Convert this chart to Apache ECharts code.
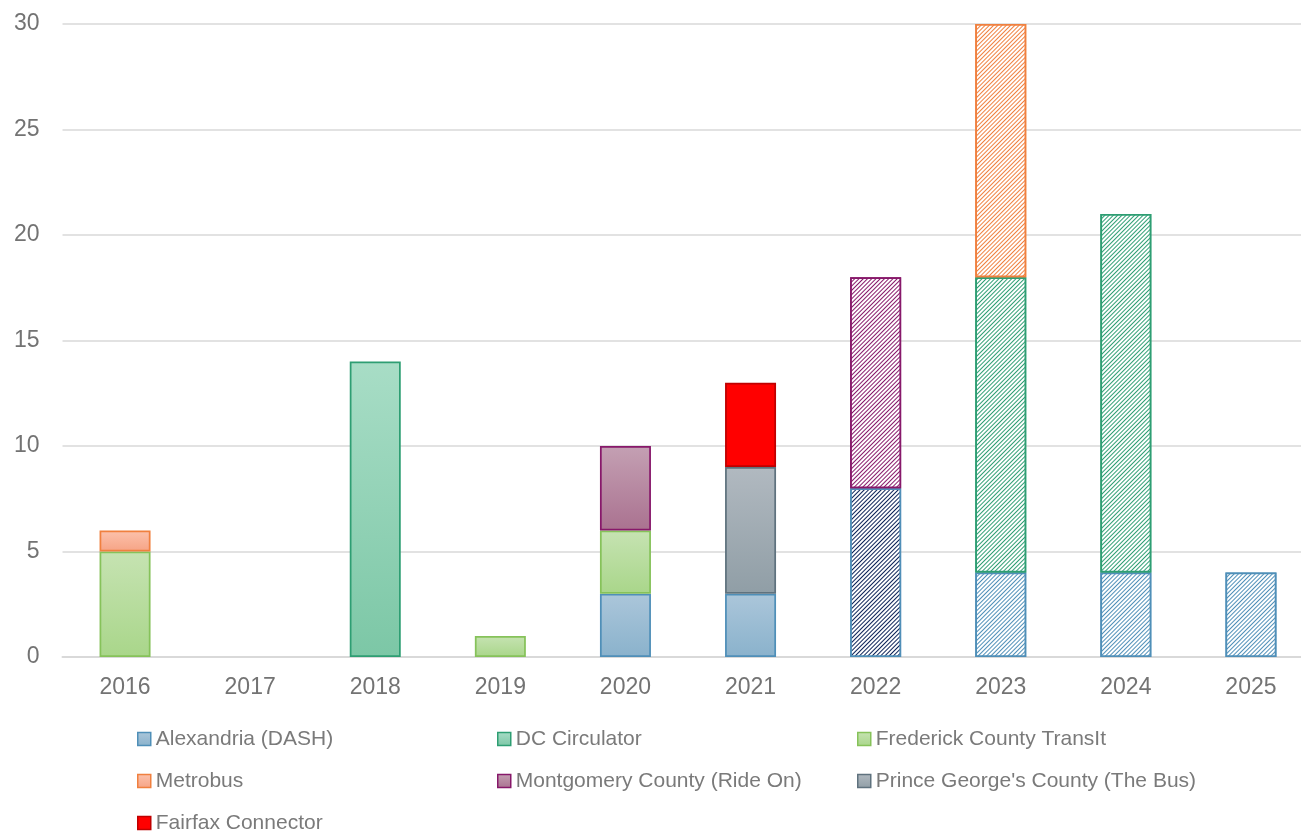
<!DOCTYPE html>
<html>
<head>
<meta charset="utf-8">
<script src="https://cdn.jsdelivr.net/npm/echarts@6/dist/echarts.min.js"></script>
<style>
html,body{margin:0;padding:0;background:#fff;}
#chart{width:1301px;height:833px;}
</style>
</head>
<body>
<div id="chart"></div>
<script>
// ---- data ----
var years = ['2016','2017','2018','2019','2020','2021','2022','2023','2024','2025'];
var yTicks = [0, 5, 10, 15, 20, 25, 30];
var seriesNames = ['Alexandria (DASH)','DC Circulator','Frederick County TransIt','Metrobus','Montgomery County (Ride On)',"Prince George's County (The Bus)",'Fairfax Connector'];
var alexandria    = [0, 0, 0, 0, 3, 3, 8, 4, 4, 4];
var dcCirculator  = [0, 0, 14, 0, 0, 0, 0, 14, 17, 0];
var frederick     = [5, 0, 0, 1, 3, 0, 0, 0, 0, 0];
var metrobus      = [1, 0, 0, 0, 0, 0, 0, 12, 0, 0];
var montgomery    = [0, 0, 0, 0, 4, 0, 10, 0, 0, 0];
var princeGeorges = [0, 0, 0, 0, 0, 6, 0, 0, 0, 0];
var fairfax       = [0, 0, 0, 0, 0, 4, 0, 0, 0, 0];
// planned (hatched) years
var planned = [false, false, false, false, false, false, true, true, true, true];

// ---- styles ----
function grad(top, bottom) {
  return {type:'linear', x:0, y:0, x2:0, y2:1, colorStops:[{offset:0,color:top},{offset:1,color:bottom}]};
}
var styles = [
  {fill: grad('#abc6da','#8ab2cc'), border:'#4f8fb8', hatch:'#4f8fb8'},
  {fill: grad('#a8ddc6','#7cc7a6'), border:'#2e9e73', hatch:'#2e9e73'},
  {fill: grad('#c6e3b2','#a9d68a'), border:'#86c25a', hatch:'#86c25a'},
  {fill: grad('#fcc2ac','#f6a385'), border:'#f0803f', hatch:'#f0803f'},
  {fill: grad('#c4a0b3','#aa7290'), border:'#87186a', hatch:'#87186a'},
  {fill: grad('#b1b9c0','#909ea6'), border:'#5f727e', hatch:'#5f727e'},
  {fill: '#ff0000', border:'#c00000', hatch:'#c00000'}
];
// Alexandria 2022 hatch is dark navy
var alexHatchColors = {6:'#0b2157'};
var values = [alexandria, dcCirculator, frederick, metrobus, montgomery, princeGeorges, fairfax];

function decal(color) {
  return {
    symbol:'rect', symbolSize:1, color:color, backgroundColor:'#ffffff',
    dashArrayX:[[1,0]], dashArrayY:[0.95,2.0], rotation:-Math.PI/4
  };
}

var series = values.map(function(arr, si) {
  var st = styles[si];
  return {
    name: seriesNames[si],
    type: 'bar',
    stack: 'total',
    barWidth: 51,
    itemStyle: {color: st.fill, borderColor: st.border, borderWidth: 1.75},
    emphasis: {disabled: true},
    data: arr.map(function(v, i) {
      if (!v) return null;
      if (planned[i]) {
        var hc = (si === 0 && alexHatchColors[i]) ? alexHatchColors[i] : st.hatch;
        return {value: v, itemStyle: {color:'#ffffff', borderColor: st.border, borderWidth: 1.75, decal: decal(hc)}};
      }
      return v;
    })
  };
});

var legendFont = {fontFamily:'Liberation Sans, Arial, sans-serif', fontSize:21, color:'#7a7a7a', lineHeight:22};
// legend grid: [series index, column, row]
var legendCols = [137, 497, 857];
var legendRows = [739, 781, 823];
var legendPlace = [[0,0,0],[1,1,0],[2,2,0],[3,0,1],[4,1,1],[5,2,1],[6,0,2]];
var legends = legendPlace.map(function(p) {
  return {
    data: [seriesNames[p[0]]], orient:'horizontal', left:legendCols[p[1]], top:legendRows[p[2]] - 11,
    itemWidth:13, itemHeight:13, icon:'rect', textStyle: legendFont,
    itemStyle:{borderWidth:1.5}, selectedMode:false, padding:0
  };
});

var chart = echarts.init(document.getElementById('chart'), null, {renderer:'canvas'});
chart.setOption({
  animation:false,
  backgroundColor:'#ffffff',
  aria:{enabled:false},
  grid:{left:62.5, top:24, width:1251, height:633, containLabel:false, outerBoundsMode:'none'},
  xAxis:{
    type:'category', data: years,
    axisLine:{show:true, lineStyle:{color:'#d9d9d9', width:2}},
    axisTick:{show:false},
    axisLabel:{color:'#737373', fontSize:23, fontFamily:'Liberation Sans, Arial, sans-serif', margin:19}
  },
  yAxis:{
    type:'value', min:yTicks[0], max:yTicks[yTicks.length-1], interval:5,
    axisLine:{show:false}, axisTick:{show:false},
    splitLine:{lineStyle:{color:'#d9d9d9', width:1.5}},
    axisLabel:{color:'#737373', fontSize:23, fontFamily:'Liberation Sans, Arial, sans-serif', margin:23}
  },
  legend: legends,
  series: series
});
</script>
</body>
</html>
